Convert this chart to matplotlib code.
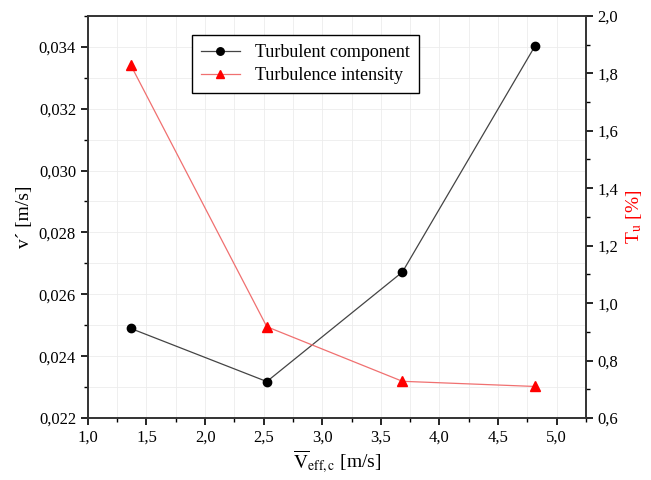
import numpy as np
import matplotlib
matplotlib.use("Agg")
import matplotlib.pyplot as plt
from matplotlib.ticker import MultipleLocator, FuncFormatter

plt.rcParams["font.family"] = ["Liberation Serif", "DejaVu Serif"]
plt.rcParams["mathtext.fontset"] = "stix"

v_eff = [1.364, 2.527, 3.684, 4.818]
v_turb = [0.02490, 0.02318, 0.02672, 0.03404]
tu = [1.83, 0.918, 0.728, 0.71]


def comma(fmt):
    return FuncFormatter(lambda v, pos: (fmt % v).replace(".", ","))


fig, ax = plt.subplots(figsize=(6.51, 4.80), dpi=100)
fig.subplots_adjust(left=0.135, right=0.900, top=0.967, bottom=0.129)
ax2 = ax.twinx()

l1, = ax.plot(v_eff, v_turb, color="#444444", lw=0.9, marker="o", ms=6,
              mfc="black", mec="black", label="Turbulent component")
l2, = ax2.plot(v_eff, tu, color="#f07070", lw=0.9, marker="^", ms=7,
               mfc="red", mec="red", label="Turbulence intensity")

ax.set_xlim(1.0, 5.25)
ax.set_ylim(0.022, 0.035)
ax2.set_ylim(0.6, 2.0)

ax.xaxis.set_major_locator(MultipleLocator(0.5))
ax.xaxis.set_minor_locator(MultipleLocator(0.25))
ax.yaxis.set_major_locator(MultipleLocator(0.002))
ax.yaxis.set_minor_locator(MultipleLocator(0.001))
ax2.yaxis.set_major_locator(MultipleLocator(0.2))
ax2.yaxis.set_minor_locator(MultipleLocator(0.1))
ax.xaxis.set_major_formatter(comma("%.1f"))
ax.yaxis.set_major_formatter(comma("%.3f"))
ax2.yaxis.set_major_formatter(comma("%.1f"))

ax.grid(True, which="both", color="#ececec", lw=0.6)
ax.set_axisbelow(True)

for a in (ax, ax2):
    a.tick_params(which="major", direction="out", length=5, width=1.2,
                  labelsize=12)
    a.tick_params(which="minor", direction="out", length=3, width=1.0)
    for s in a.spines.values():
        s.set_linewidth(1.2)
        s.set_color("#333333")

ax.set_ylabel("v´ [m/s]", fontsize=14)
ax2.set_ylabel(r"T$_\mathrm{u}$ [%]", fontsize=14, color="red")
ax.set_xlabel(r"$\overline{\mathrm{V}}_{\mathrm{eff,c}}$ [m/s]", fontsize=14,
              labelpad=2)

leg = ax2.legend(handles=[l1, l2], loc="upper left",
                 bbox_to_anchor=(0.19, 0.975), fontsize=13, fancybox=False,
                 framealpha=1, edgecolor="black", handlelength=2.2,
                 borderpad=0.5, labelspacing=0.35, markerscale=0.9)
leg.get_frame().set_linewidth(1.0)

fig.savefig("out.png", dpi=100)
